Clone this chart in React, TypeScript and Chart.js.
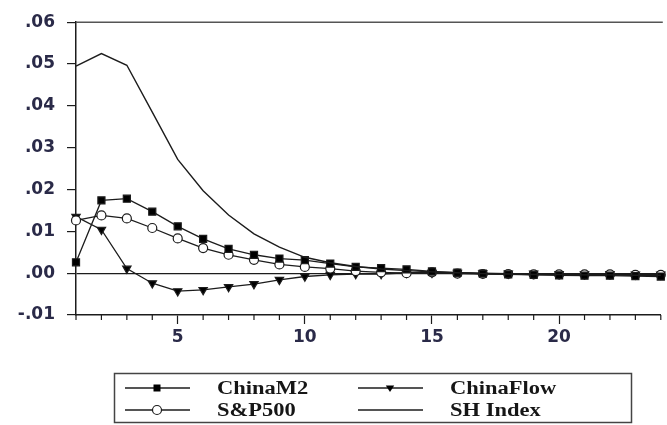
import React, { useEffect, useRef } from "react";
import { Chart, registerables } from "chart.js";

Chart.register(...registerables);

const periods = [1, 2, 3, 4, 5, 6, 7, 8, 9, 10, 11, 12, 13, 14, 15, 16, 17, 18, 19, 20, 21, 22, 23, 24];

const chinaM2 = [0.0026, 0.0174, 0.0178, 0.0147, 0.0112, 0.0082, 0.0058, 0.0044, 0.0035, 0.0031, 0.0023, 0.0015, 0.0012, 0.0009, 0.0004, 0.0001, -0.0001, -0.0003, -0.0004, -0.0005, -0.0006, -0.0006, -0.0007, -0.0008];
const chinaFlow = [0.0135, 0.0104, 0.0011, -0.0024, -0.0043, -0.004, -0.0033, -0.0026, -0.0016, -0.0008, -0.0004, -0.0002, -0.0002, 0.0001, 0.0001, 0.0001, 0.0, -0.0001, -0.0001, -0.0002, -0.0002, -0.0002, -0.0003, -0.0003];
const sp500 = [0.0126, 0.0138, 0.0131, 0.0108, 0.0083, 0.006, 0.0044, 0.0032, 0.0021, 0.0015, 0.0011, 0.0005, 0.0002, 0.0, 0.0002, -0.0001, -0.0002, -0.0002, -0.0003, -0.0003, -0.0003, -0.0003, -0.0004, -0.0004];
const shIndex = [0.0495, 0.0525, 0.0497, 0.0385, 0.0272, 0.0197, 0.0139, 0.0094, 0.0062, 0.0038, 0.0025, 0.0016, 0.001, 0.0006, 0.0003, 0.0001, -0.0001, -0.0002, -0.0003, -0.0003, -0.0004, -0.0004, -0.0005, -0.0005];

const seriesLabels = ["ChinaM2", "ChinaFlow", "S&P500", "SH Index"];
const xTickLabels = [5, 10, 15, 20];
const yMin = -0.01;
const yMax = 0.06;

const INK = "#1c1c1c";

function drawMarker(ctx: CanvasRenderingContext2D, kind: string, x: number, y: number) {
  ctx.save();
  ctx.lineWidth = 1.2;
  ctx.strokeStyle = INK;
  if (kind === "square") {
    ctx.fillStyle = "#000";
    ctx.fillRect(x - 3.5, y - 3.5, 7, 7);
  } else if (kind === "circle") {
    ctx.fillStyle = "#fff";
    ctx.beginPath();
    ctx.arc(x, y, 4.5, 0, Math.PI * 2);
    ctx.fill();
    ctx.stroke();
  } else if (kind === "triangle") {
    ctx.fillStyle = "#000";
    ctx.beginPath();
    ctx.moveTo(x - 4.2, y - 2.5);
    ctx.lineTo(x + 4.2, y - 2.5);
    ctx.lineTo(x, y + 4);
    ctx.closePath();
    ctx.fill();
  }
  ctx.restore();
}

const framePlugin = {
  id: "frameAndLegend",
  afterDraw(chart: any) {
    const ctx: CanvasRenderingContext2D = chart.ctx;
    const area = chart.chartArea;
    const xs = chart.scales.x;
    ctx.save();
    // top frame line
    ctx.strokeStyle = "#555";
    ctx.lineWidth = 1.5;
    ctx.beginPath();
    ctx.moveTo(area.left, area.top);
    ctx.lineTo(area.right + 2, area.top);
    ctx.stroke();
    // minor x ticks
    ctx.strokeStyle = INK;
    ctx.lineWidth = 1.2;
    for (const p of periods) {
      if (p % 5 === 0) continue;
      const px = xs.getPixelForValue(p);
      ctx.beginPath();
      ctx.moveTo(px, area.bottom);
      ctx.lineTo(px, area.bottom + 5);
      ctx.stroke();
    }
    // legend box
    ctx.strokeStyle = "#444";
    ctx.lineWidth = 1.5;
    ctx.strokeRect(114.5, 373.5, 517, 49);
    const items = [
      { label: seriesLabels[0], kind: "square", lx: 125, row: 388 },
      { label: seriesLabels[1], kind: "triangle", lx: 358, row: 388 },
      { label: seriesLabels[2], kind: "circle", lx: 125, row: 410 },
      { label: seriesLabels[3], kind: "none", lx: 358, row: 410 },
    ];
    for (const it of items) {
      ctx.strokeStyle = INK;
      ctx.lineWidth = 1.3;
      ctx.beginPath();
      ctx.moveTo(it.lx, it.row);
      ctx.lineTo(it.lx + 65, it.row);
      ctx.stroke();
      drawMarker(ctx, it.kind, it.lx + 32, it.row);
      ctx.save();
      ctx.translate(it.lx + 92, it.row + 1);
      ctx.scale(1.25, 1);
      ctx.font = 'bold 18px "Liberation Serif"';
      ctx.fillStyle = "#161616";
      ctx.textBaseline = "middle";
      ctx.textAlign = "left";
      ctx.fillText(it.label, 0, 0);
      ctx.restore();
    }
    ctx.restore();
  },
};

export default function App() {
  const ref = useRef<HTMLCanvasElement | null>(null);
  useEffect(() => {
    if (!ref.current) return;
    const toXY = (arr: number[]) => periods.map((p, i) => ({ x: p, y: arr[i] }));
    const base = {
      borderColor: INK,
      borderWidth: 1.3,
      tension: 0,
      clip: false as any,
      pointBorderColor: INK,
      pointBorderWidth: 1.2,
    };
    const chart = new Chart(ref.current, {
      type: "line",
      data: {
        datasets: [
          { ...base, label: seriesLabels[3], data: toXY(shIndex), pointRadius: 0, borderWidth: 1.4 },
          { ...base, label: seriesLabels[0], data: toXY(chinaM2), pointStyle: "rect", pointRadius: 5, pointBackgroundColor: "#000" },
          { ...base, label: seriesLabels[2], data: toXY(sp500), pointStyle: "circle", pointRadius: 4.5, pointBackgroundColor: "#fff" },
          { ...base, label: seriesLabels[1], data: toXY(chinaFlow), pointStyle: "triangle", pointRotation: 180, pointRadius: 4.8, pointBackgroundColor: "#000" },
        ],
      },
      options: {
        animation: false,
        responsive: false,
        devicePixelRatio: 1,
        layout: { padding: { top: 15, left: 0, right: 0, bottom: 0 } },
        plugins: { legend: { display: false }, tooltip: { enabled: false } },
        scales: {
          x: {
            type: "linear",
            min: 1,
            max: 24,
            afterFit: (s: any) => { s.height = 110; },
            afterBuildTicks: (s: any) => { s.ticks = periods.map((p) => ({ value: p })); },
            ticks: {
              autoSkip: false,
              maxRotation: 0,
              padding: 3,
              color: "#2a2a48",
              font: { family: "DejaVu Sans", size: 17, weight: "bold" },
              callback: (v: any) => (xTickLabels.includes(Number(v)) ? String(v) : ""),
            },
            grid: {
              drawOnChartArea: false,
              drawTicks: true,
              tickLength: 9,
              tickWidth: 1.2,
              tickColor: (c: any) => (c.tick && c.tick.value % 5 === 0 ? INK : "rgba(0,0,0,0)"),
            },
            border: { display: true, color: INK, width: 1.5 },
          },
          y: {
            min: yMin,
            max: yMax,
            afterFit: (s: any) => { s.width = 76; },
            ticks: {
              stepSize: 0.01,
              padding: 12,
              color: "#2a2a48",
              font: { family: "DejaVu Sans", size: 17, weight: "bold" },
              callback: (v: any) => {
                const n = Number(v);
                if (Math.abs(n) < 1e-9) return ".00";
                return n.toFixed(2).replace("0.", ".");
              },
            },
            grid: {
              drawOnChartArea: true,
              drawTicks: true,
              tickLength: 9,
              tickWidth: 1.2,
              tickColor: INK,
              color: (c: any) => (c.tick && Math.abs(c.tick.value) < 1e-9 ? INK : "rgba(0,0,0,0)"),
              lineWidth: 1.2,
            },
            border: { display: true, color: INK, width: 1.5 },
          },
        },
      },
      plugins: [framePlugin],
    });
    return () => chart.destroy();
  }, []);
  return (
    <div style={{ position: "absolute", left: 0, top: 0, width: 667, height: 425, background: "#fff" }}>
      <canvas ref={ref} width={667} height={425} style={{ display: "block" }} />
    </div>
  );
}
